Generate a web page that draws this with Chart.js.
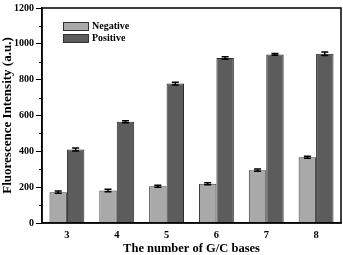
<!DOCTYPE html>
<html>
<head>
<meta charset="utf-8">
<script src="https://cdn.jsdelivr.net/npm/chart.js@4.4.1/dist/chart.umd.min.js"></script>
<style>
  body { margin: 0; background: #fff; }
  #wrap { width: 343px; height: 255px; position: relative; }
</style>
</head>
<body>
<div id="wrap"><canvas id="grafico"></canvas></div>
<script>
// Dados
const categorias = ['3', '4', '5', '6', '7', '8'];
const negativo = [172, 182, 205, 219, 295, 367];
const positivo = [410, 565, 778, 921, 941, 945];
const erroNegativo = [6, 7, 6, 6, 6, 5];
const erroPositivo = [8, 6, 8, 7, 5, 10];

const fonte = '"Liberation Serif", "DejaVu Serif", serif';

// Barras de erro, moldura do gráfico, ticks menores e legenda interna
const extras = {
  id: 'extras',
  afterDatasetsDraw(chart) {
    const ctx = chart.ctx;
    const y = chart.scales.y;
    const erros = [erroNegativo, erroPositivo];
    ctx.save();
    ctx.strokeStyle = '#000';
    ctx.lineWidth = 1.5;
    chart.data.datasets.forEach((ds, i) => {
      const meta = chart.getDatasetMeta(i);
      meta.data.forEach((bar, j) => {
        const v = ds.data[j];
        const e = erros[i][j];
        const yTop = y.getPixelForValue(v + e);
        const yBot = y.getPixelForValue(v - e);
        ctx.beginPath();
        ctx.moveTo(bar.x, yTop);
        ctx.lineTo(bar.x, yBot);
        ctx.moveTo(bar.x - 3.5, yTop);
        ctx.lineTo(bar.x + 3.5, yTop);
        ctx.moveTo(bar.x - 3.5, yBot);
        ctx.lineTo(bar.x + 3.5, yBot);
        ctx.stroke();
      });
    });
    ctx.restore();
  },
  afterDraw(chart) {
    const ctx = chart.ctx;
    const a = chart.chartArea;
    const y = chart.scales.y;
    ctx.save();
    ctx.strokeStyle = '#000';
    ctx.lineWidth = 1.5;
    ctx.strokeRect(a.left, a.top, a.right - a.left, a.bottom - a.top);
    // ticks menores
    ctx.lineWidth = 1;
    for (let v = 100; v < 1200; v += 200) {
      const py = Math.round(y.getPixelForValue(v)) + 0.5;
      ctx.beginPath();
      ctx.moveTo(a.left - 3, py);
      ctx.lineTo(a.left, py);
      ctx.stroke();
    }
    // legenda
    ctx.font = 'bold 10px ' + fonte;
    ctx.textBaseline = 'middle';
    chart.data.datasets.forEach((ds, i) => {
      const bx = a.left + 21;
      const by = a.top + 14 + i * 12;
      ctx.fillStyle = ds.backgroundColor;
      ctx.fillRect(bx, by, 25, 8);
      ctx.strokeStyle = '#333';
      ctx.lineWidth = 1;
      ctx.strokeRect(bx + 0.5, by + 0.5, 25, 8);
      ctx.fillStyle = '#000';
      ctx.fillText(ds.label, bx + 29, by + 4.5);
    });
    ctx.restore();
  }
};

const grafico = new Chart(document.getElementById('grafico'), {
  type: 'bar',
  data: {
    labels: categorias,
    datasets: [
      {
        label: 'Negative',
        data: negativo,
        backgroundColor: '#a9a9a9',
        borderColor: '#3a3a3a',
        borderWidth: 1
      },
      {
        label: 'Positive',
        data: positivo,
        backgroundColor: '#5c5c5c',
        borderColor: '#2a2a2a',
        borderWidth: 1
      }
    ]
  },
  options: {
    responsive: true,
    maintainAspectRatio: false,
    animation: false,
    layout: { padding: { top: -2, right: 2, left: 0, bottom: 0 } },
    datasets: {
      bar: { categoryPercentage: 0.7, barPercentage: 1.0 }
    },
    plugins: {
      legend: { display: false },
      tooltip: { enabled: false }
    },
    scales: {
      x: {
        grid: { display: false, drawTicks: false },
        border: { color: '#000', width: 1.5 },
        afterFit: (s) => { s.height = 32; },
        ticks: {
          color: '#000',
          font: { family: fonte, weight: 'bold', size: 10.5, lineHeight: 1.2 },
          padding: 6
        },
        title: {
          display: true,
          text: 'The number of G/C bases',
          color: '#000',
          font: { family: fonte, weight: 'bold', size: 12.5, lineHeight: 1 },
          padding: { top: 0, bottom: 0 }
        }
      },
      y: {
        min: 0,
        max: 1200,
        afterFit: (s) => { s.width = 42; },
        grid: { display: true, drawOnChartArea: false, drawTicks: true, tickLength: 6, tickColor: '#000', tickWidth: 1 },
        border: { color: '#000', width: 1.5 },
        ticks: {
          stepSize: 200,
          color: '#000',
          font: { family: fonte, weight: 'bold', size: 10 },
          padding: 2,
          callback: (v) => String(v)
        },
        title: {
          display: true,
          text: 'Fluorescence Intensity (a.u.)',
          color: '#000',
          font: { family: fonte, weight: 'bold', size: 13, lineHeight: 1 },
          padding: { top: 1.5, bottom: 0 }
        }
      }
    }
  },
  plugins: [extras]
});
</script>
</body>
</html>
